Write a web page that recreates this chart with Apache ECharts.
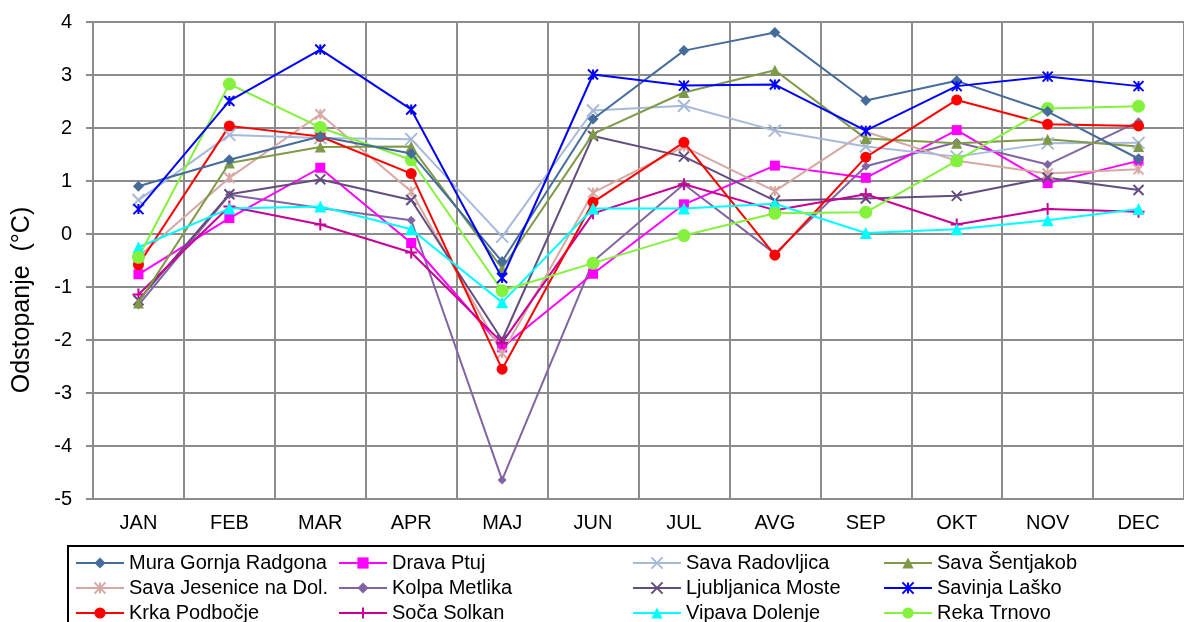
<!DOCTYPE html>
<html><head><meta charset="utf-8">
<script src="https://cdn.jsdelivr.net/npm/echarts@6/dist/echarts.min.js"></script>
<style>html,body{margin:0;padding:0;background:#fff}#c{width:1184px;height:622px}</style>
</head><body><div id="c"></div>
<script>
var months = ['JAN','FEB','MAR','APR','MAJ','JUN','JUL','AVG','SEP','OKT','NOV','DEC'];
var yTicks = [-5,-4,-3,-2,-1,0,1,2,3,4];
var yTitle = 'Odstopanje  (°C)';
var seriesNames = ['Mura Gornja Radgona','Drava Ptuj','Sava Radovljica','Sava Šentjakob','Sava Jesenice na Dol.','Kolpa Metlika','Ljubljanica Moste','Savinja Laško','Krka Podbočje','Soča Solkan','Vipava Dolenje','Reka Trnovo'];
var muraGornjaRadgona = [0.90,1.40,1.84,1.52,-0.52,2.17,3.46,3.80,2.52,2.89,2.31,1.42];
var dravaPtuj = [-0.76,0.30,1.25,-0.17,-2.14,-0.75,0.56,1.29,1.06,1.96,0.96,1.38];
var savaRadovljica = [0.64,1.87,1.81,1.79,-0.05,2.33,2.42,1.95,1.65,1.46,1.71,1.72];
var savaSentjakob = [-1.30,1.34,1.64,1.65,-0.65,1.89,2.67,3.09,1.80,1.71,1.79,1.65];
var savaJesenice = [-0.43,1.06,2.26,0.80,-2.25,0.78,1.65,0.81,1.93,1.38,1.14,1.22];
var kolpaMetlika = [-1.34,0.74,0.49,0.26,-4.64,-0.52,0.94,-0.37,1.28,1.73,1.31,2.12];
var ljubljanicaMoste = [-1.25,0.75,1.03,0.64,-2.00,1.85,1.46,0.63,0.67,0.72,1.06,0.83];
var savinjaLasko = [0.47,2.51,3.48,2.35,-0.83,3.01,2.80,2.82,1.95,2.79,2.97,2.79];
var krkaPodbocje = [-0.58,2.04,1.84,1.14,-2.55,0.60,1.73,-0.40,1.45,2.53,2.07,2.04];
var socaSolkan = [-1.14,0.52,0.18,-0.35,-2.05,0.39,0.94,0.45,0.75,0.18,0.47,0.42];
var vipavaDolenje = [-0.25,0.48,0.52,0.09,-1.29,0.48,0.48,0.57,0.02,0.09,0.26,0.47];
var rekaTrnovo = [-0.44,2.83,2.01,1.40,-1.07,-0.55,-0.03,0.39,0.41,1.38,2.37,2.41];

var seriesData = [muraGornjaRadgona,dravaPtuj,savaRadovljica,savaSentjakob,savaJesenice,kolpaMetlika,ljubljanicaMoste,savinjaLasko,krkaPodbocje,socaSolkan,vipavaDolenje,rekaTrnovo];

var DIA = 'path://M5 0L10 5L5 10L0 5Z';
var X = 'path://M0 0L10 10M10 0L0 10';
var AST = 'path://M0 0L10 10M10 0L0 10M5 0L5 10';
var PLUS = 'path://M5 0L5 10M0 5L10 5';
var styles = [
  {c:'#466C9B', s:DIA, z:11, sz:11},
  {c:'#FF00FF', s:'rect', z:9, sz:10},
  {c:'#A7B9D9', s:X, z:10, stroke:true, sz:12},
  {c:'#7E9A48', s:'triangle', z:10, sz:11},
  {c:'#D7A8A3', s:AST, z:9, stroke:true, sz:10},
  {c:'#8165A3', s:DIA, z:8, sz:9},
  {c:'#634C7F', s:X, z:9, stroke:true, sz:10},
  {c:'#0000FF', s:AST, z:12, stroke:true, sz:10},
  {c:'#FF0000', s:'circle', z:10, sz:11},
  {c:'#C80096', s:PLUS, z:9, stroke:true, sz:12},
  {c:'#00FFFF', s:'triangle', z:10, sz:12},
  {c:'#84F23C', s:'circle', z:10, sz:13}
];

var series = seriesNames.map(function(n,i){
  var st = styles[i];
  var item = {color: st.c};
  if (st.stroke) { item.borderColor = st.c; item.borderWidth = 2; }
  return {
    name: n, type: 'line', data: seriesData[i],
    symbol: st.s, symbolSize: st.sz, showSymbol: true,
    lineStyle: {color: st.c, width: 2},
    itemStyle: item, z: st.z,
    emphasis: {disabled: true}
  };
});

var colLeft = [75,338,632,883];
var rowCenter = [563,588,613];
var legends = seriesNames.map(function(n,i){
  var col = i % 4, row = Math.floor(i / 4);
  return {
    orient:'horizontal', left: colLeft[col], top: rowCenter[row] - 10, padding: 0,
    itemWidth: 48, itemHeight: 14, itemGap: 5,
    data: [n],
    textStyle: {fontFamily:'Liberation Sans, Arial', fontSize: 20, lineHeight: 20, color:'#000'},
    selectedMode: false
  };
});

var chart = echarts.init(document.getElementById('c'), null, {renderer:'canvas'});
chart.setOption({
  animation: false,
  backgroundColor: '#fff',
  grid: {left: 93, top: 22, right: 0, bottom: 123, containLabel: false},
  legend: legends,
  graphic: [
    {type:'rect', shape:{x:68, y:546, width:1130, height:100}, style:{fill:'none', stroke:'#000', lineWidth:2}, z:0},
    {type:'text', x:22, y:300, rotation:Math.PI/2, style:{text:yTitle, fontFamily:'Liberation Sans, Arial', fontSize:25, fill:'#000', align:'center', verticalAlign:'middle'}}
  ],
  xAxis: {
    type:'category', data: months, boundaryGap: true,
    axisLine:{show:true, lineStyle:{color:'#8C8C8C', width:2}},
    axisTick:{show:false},
    splitLine:{show:true, lineStyle:{color:'#8C8C8C', width:2}},
    axisLabel:{fontFamily:'Liberation Sans, Arial', fontSize:20, color:'#000', margin:14, interval:0}
  },
  yAxis: {
    type:'value', min:-5, max:4, interval:1,
    axisLine:{show:true, lineStyle:{color:'#8C8C8C', width:2}},
    axisTick:{show:true, length:7, lineStyle:{color:'#8C8C8C', width:2}},
    splitLine:{show:true, lineStyle:{color:'#8C8C8C', width:2}},
    axisLabel:{fontFamily:'Liberation Sans, Arial', fontSize:20, color:'#000', margin:21,
      formatter:function(v){return yTicks.indexOf(v)>=0 ? String(v) : '';}}
  },
  series: series
});
</script></body></html>
